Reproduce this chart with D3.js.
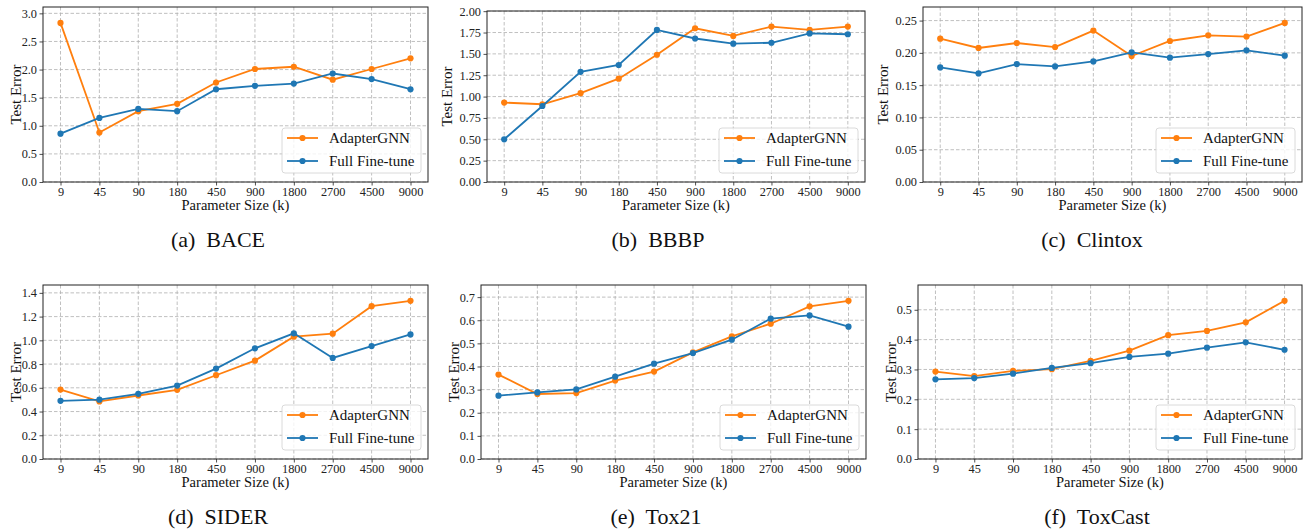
<!DOCTYPE html>
<html>
<head>
<meta charset="utf-8">
<script src="https://cdn.jsdelivr.net/npm/d3@7"></script>
<style>
  body { margin: 0; background: #fff; }
  svg { display: block; font-family: "Liberation Serif", "Times New Roman", serif; }
</style>
</head>
<body>
<svg id="chart" width="1309" height="531"></svg>
<script>
// x categories (parameter size in k)
const paramSizes = ["9", "45", "90", "180", "450", "900", "1800", "2700", "4500", "9000"];
const seriesNames = ["AdapterGNN", "Full Fine-tune"];
const seriesColors = ["#ff7f0e", "#1f77b4"];

// test error per dataset
const baceAdapter = [2.83, 0.88, 1.26, 1.39, 1.77, 2.01, 2.05, 1.82, 2.01, 2.20];
const baceFull = [0.86, 1.14, 1.30, 1.26, 1.65, 1.71, 1.75, 1.93, 1.83, 1.65];

const bbbpAdapter = [0.93, 0.91, 1.04, 1.21, 1.49, 1.80, 1.71, 1.82, 1.78, 1.82];
const bbbpFull = [0.50, 0.89, 1.29, 1.37, 1.78, 1.68, 1.62, 1.63, 1.74, 1.73];

const clintoxAdapter = [0.222, 0.2076, 0.2153, 0.209, 0.2345, 0.195, 0.2184, 0.2272, 0.2252, 0.2464];
const clintoxFull = [0.1775, 0.1682, 0.1827, 0.179, 0.1868, 0.2008, 0.1925, 0.1982, 0.2039, 0.1957];

const siderAdapter = [0.585, 0.485, 0.535, 0.583, 0.706, 0.829, 1.031, 1.056, 1.288, 1.333];
const siderFull = [0.49, 0.50, 0.549, 0.619, 0.762, 0.933, 1.059, 0.852, 0.952, 1.05];

const tox21Adapter = [0.365, 0.281, 0.285, 0.339, 0.378, 0.461, 0.530, 0.585, 0.660, 0.684];
const tox21Full = [0.274, 0.288, 0.301, 0.356, 0.412, 0.458, 0.516, 0.607, 0.621, 0.572];

const toxcastAdapter = [0.293, 0.278, 0.295, 0.301, 0.329, 0.363, 0.415, 0.429, 0.458, 0.530];
const toxcastFull = [0.267, 0.271, 0.286, 0.305, 0.321, 0.342, 0.353, 0.373, 0.391, 0.366];

// y tick labels
const baceTicks = [0, 0.5, 1.0, 1.5, 2.0, 2.5, 3.0];
const bbbpTicks = [0, 0.25, 0.5, 0.75, 1.0, 1.25, 1.5, 1.75, 2.0];
const clintoxTicks = [0, 0.05, 0.10, 0.15, 0.20, 0.25];
const siderTicks = [0, 0.2, 0.4, 0.6, 0.8, 1.0, 1.2, 1.4];
const tox21Ticks = [0, 0.1, 0.2, 0.3, 0.4, 0.5, 0.6, 0.7];
const toxcastTicks = [0, 0.1, 0.2, 0.3, 0.4, 0.5];

const captions = ["(a)  BACE", "(b)  BBBP", "(c)  Clintox", "(d)  SIDER", "(e)  Tox21", "(f)  ToxCast"];

// panel layout (frame box, caption centre)
const panels = [
  { l: 43, r: 428, t: 7, b: 182, cx: 218, cy: 247, data: [baceAdapter, baceFull], ticks: baceTicks, fmt: ".1f" },
  { l: 487, r: 865, t: 11, b: 182, cx: 658, cy: 247, data: [bbbpAdapter, bbbpFull], ticks: bbbpTicks, fmt: ".2f" },
  { l: 923, r: 1302, t: 7, b: 182, cx: 1092, cy: 247, data: [clintoxAdapter, clintoxFull], ticks: clintoxTicks, fmt: ".2f" },
  { l: 43, r: 428, t: 285, b: 459, cx: 218, cy: 524, data: [siderAdapter, siderFull], ticks: siderTicks, fmt: ".1f" },
  { l: 481, r: 866, t: 285, b: 459, cx: 656, cy: 524, data: [tox21Adapter, tox21Full], ticks: tox21Ticks, fmt: ".1f" },
  { l: 918, r: 1302, t: 285, b: 459, cx: 1097, cy: 524, data: [toxcastAdapter, toxcastFull], ticks: toxcastTicks, fmt: ".1f" }
];

const svg = d3.select("#chart");

panels.forEach((p, i) => {
  const g = svg.append("g");

  const x = d3.scalePoint()
    .domain(paramSizes)
    .range([p.l, p.r])
    .padding(0.45);

  // ylim = (0, max * 1.1)
  const ymax = d3.max(p.data, s => d3.max(s)) * 1.1;
  const y = d3.scaleLinear()
    .domain([0, ymax])
    .range([p.b, p.t]);

  // grid
  g.append("g")
    .selectAll("line")
    .data(p.ticks)
    .join("line")
    .attr("x1", p.l).attr("x2", p.r)
    .attr("y1", d => y(d)).attr("y2", d => y(d))
    .attr("stroke", "#b0b0b0")
    .attr("stroke-width", 0.8)
    .attr("stroke-dasharray", "3.5,2");
  g.append("g")
    .selectAll("line")
    .data(paramSizes)
    .join("line")
    .attr("x1", d => x(d)).attr("x2", d => x(d))
    .attr("y1", p.t).attr("y2", p.b)
    .attr("stroke", "#b0b0b0")
    .attr("stroke-width", 0.8)
    .attr("stroke-dasharray", "3.5,2");

  // axes
  const xAxis = g.append("g")
    .attr("transform", `translate(0,${p.b})`)
    .call(d3.axisBottom(x).tickSize(3.5).tickPadding(1.5));
  const yAxis = g.append("g")
    .attr("transform", `translate(${p.l},0)`)
    .call(d3.axisLeft(y).tickValues(p.ticks).tickFormat(d3.format(p.fmt)).tickSize(3.5).tickPadding(2.5));
  [xAxis, yAxis].forEach(a => {
    a.attr("font-family", "'Liberation Serif', 'Times New Roman', serif");
    a.select(".domain").remove();
    a.selectAll("line").attr("stroke", "#222").attr("stroke-width", 0.8);
    a.selectAll("text")
      .attr("fill", "#222")
      .style("font-size", "12.3px");
  });

  // frame
  g.append("rect")
    .attr("x", p.l).attr("y", p.t)
    .attr("width", p.r - p.l).attr("height", p.b - p.t)
    .attr("fill", "none")
    .attr("stroke", "#222")
    .attr("stroke-width", 1);

  // lines + markers
  const line = d3.line()
    .x((d, j) => x(paramSizes[j]))
    .y(d => y(d));

  p.data.forEach((s, k) => {
    g.append("path")
      .datum(s)
      .attr("d", line)
      .attr("fill", "none")
      .attr("stroke", seriesColors[k])
      .attr("stroke-width", 1.8);
    g.append("g")
      .selectAll("circle")
      .data(s)
      .join("circle")
      .attr("cx", (d, j) => x(paramSizes[j]))
      .attr("cy", d => y(d))
      .attr("r", 3.1)
      .attr("fill", seriesColors[k]);
  });

  // axis labels
  g.append("text")
    .attr("x", (p.l + p.r) / 2)
    .attr("y", p.b + 28)
    .attr("text-anchor", "middle")
    .attr("font-size", 14.5)
    .attr("fill", "#111")
    .text("Parameter Size (k)");

  const yLabX = p.l - (p.fmt === ".2f" ? 35 : 22);
  g.append("text")
    .attr("transform", `translate(${yLabX},${(p.t + p.b) / 2}) rotate(-90)`)
    .attr("text-anchor", "middle")
    .attr("font-size", 15)
    .attr("fill", "#111")
    .text("Test Error");

  // legend
  const lw = 139, lh = 45;
  const lx = p.r - 7 - lw, ly = p.b - 9 - lh;
  const leg = g.append("g").attr("transform", `translate(${lx},${ly})`);
  leg.append("rect")
    .attr("width", lw).attr("height", lh)
    .attr("rx", 3)
    .attr("fill", "rgba(255,255,255,0.8)")
    .attr("stroke", "#d0d0d0")
    .attr("stroke-width", 0.8);
  seriesNames.forEach((name, k) => {
    const ry = 10 + k * 23;
    leg.append("line")
      .attr("x1", 5).attr("x2", 36)
      .attr("y1", ry).attr("y2", ry)
      .attr("stroke", seriesColors[k])
      .attr("stroke-width", 1.8);
    leg.append("circle")
      .attr("cx", 20.5).attr("cy", ry)
      .attr("r", 3.1)
      .attr("fill", seriesColors[k]);
    leg.append("text")
      .attr("x", 47).attr("y", ry + 5)
      .attr("font-size", 15)
      .attr("fill", "#111")
      .text(name);
  });

  // caption
  svg.append("text")
    .attr("x", p.cx).attr("y", p.cy)
    .attr("text-anchor", "middle")
    .attr("font-size", 22)
    .attr("fill", "#111")
    .style("white-space", "pre")
    .text(captions[i]);
});
</script>
</body>
</html>
